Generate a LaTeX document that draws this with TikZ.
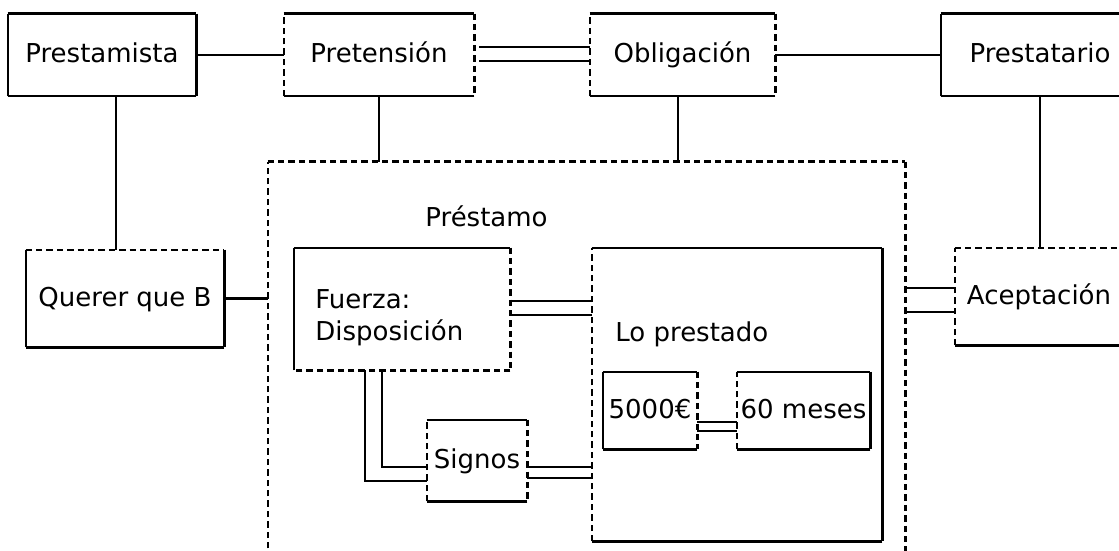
\documentclass[tikz,border=0pt]{standalone}
\usepackage{fontspec}
\setmainfont{DejaVu Sans}
\tikzstyle{block} = [rectangle, inner sep=0pt, font=\fontsize{13pt}{16pt}\selectfont]
\tikzstyle{word} = [block, text height=10pt, text depth=2pt]
\tikzstyle{freetext} = [inner sep=0pt, font=\fontsize{13pt}{16pt}\selectfont]
\tikzstyle{solidside} = [line width=1.1pt]
\tikzstyle{dashside} = [line width=1.1pt, dash pattern=on 3.2pt off 2pt]
\tikzstyle{link} = [line width=1.1pt]
% top, right, bottom, left side of a box
\newcommand{\boxsides}[5]{%
    \draw [#2] (#1.north west) -- (#1.north east);
    \draw [#3] (#1.north east) -- (#1.south east);
    \draw [#4] (#1.south east) -- (#1.south west);
    \draw [#5] (#1.south west) -- (#1.north west);}

\begin{document}
\begin{tikzpicture}[x=0.5pt,y=-0.5pt,node distance=2cm]
    \useasboundingbox (0,0) rectangle (1119,551);
    \clip (0,0) rectangle (1119,551);
    % top row
    \node [word, minimum width=94pt, minimum height=41pt] (lender) at (102,55) {Prestamista};
    \node [word, right of=lender, node distance=138.5pt, minimum width=95pt, minimum height=41pt] (claim) {Pretensión};
    \node [word, right of=claim, node distance=151.75pt, minimum width=92.5pt, minimum height=41pt] (duty) {Obligación};
    \node [word, right of=duty, node distance=178.75pt, minimum width=99pt, minimum height=41pt] (borrower) {Prestatario};
    % middle
    \node [word, minimum width=99pt, minimum height=48.5pt] (want) at (125,298.5) {Querer que B};
    \node [block, minimum width=318.5pt, minimum height=219pt] (loan) at (586.5,381) {};
    \node [freetext, anchor=base west] (loanname) at (425,227) {Préstamo};
    \node [word, minimum width=84pt, minimum height=48.5pt] (accept) at (1039,296.5) {Aceptación};
    % inside the loan
    \node [block, minimum width=108pt, minimum height=61pt] (force) at (402,309) {};
    \node [freetext, anchor=north west, align=left] (forcetext) at (315,289) {Fuerza:\\Disposición};
    \node [block, minimum width=145pt, minimum height=146.5pt] (lent) at (737,394.5) {};
    \node [freetext, anchor=base west] (lentname) at (615,341) {Lo prestado};
    \node [word, minimum width=50pt, minimum height=40.5pt] (signs) at (477,460.5) {Signos};
    \node [word, minimum width=47pt, minimum height=38.5pt] (amount) at (650,410.5) {5000€};
    \node [word, minimum width=66.5pt, minimum height=38.5pt] (term) at (803.5,410.5) {60 meses};

    \boxsides{lender}{solidside}{solidside}{solidside}{solidside}
    \boxsides{claim}{solidside}{dashside}{solidside}{dashside}
    \boxsides{duty}{solidside}{dashside}{solidside}{dashside}
    \boxsides{borrower}{solidside}{solidside}{solidside}{solidside}
    \boxsides{want}{dashside}{solidside}{solidside}{solidside}
    \boxsides{loan}{dashside}{dashside}{dashside}{dashside}
    \boxsides{accept}{dashside}{solidside}{solidside}{dashside}
    \boxsides{force}{solidside}{dashside}{dashside}{solidside}
    \boxsides{lent}{solidside}{solidside}{solidside}{dashside}
    \boxsides{signs}{solidside}{dashside}{solidside}{dashside}
    \boxsides{amount}{solidside}{dashside}{solidside}{solidside}
    \boxsides{term}{solidside}{solidside}{solidside}{dashside}

    \draw [link] (lender) -- (claim);
    \draw [link, shorten <=2.5pt] ([yshift=4pt]claim.east) -- ([yshift=4pt]duty.west);
    \draw [link, shorten <=2.5pt] ([yshift=-3pt]claim.east) -- ([yshift=-3pt]duty.west);
    \draw [link] (duty) -- (borrower);
    \draw [link] ([xshift=7pt]lender.south) -- ([xshift=7pt]lender.south |- want.north);
    \draw [link] (claim.south) -- (claim.south |- loan.north);
    \draw [link] ([xshift=-2.25pt]duty.south) -- ([xshift=-2.25pt]duty.south |- loan.north);
    \draw [link] (borrower.south) -- (borrower.south |- accept.north);
    \draw [link] (want.east) -- (want.east -| loan.west);
    \draw [link] ([yshift=4.25pt]accept.west) -- ([yshift=4.25pt]accept.west -| loan.east);
    \draw [link] ([yshift=-7.75pt]accept.west) -- ([yshift=-7.75pt]accept.west -| loan.east);
    \draw [link] ([yshift=4pt]force.east) -- ([yshift=4pt]force.east -| lent.west);
    \draw [link] ([yshift=-3pt]force.east) -- ([yshift=-3pt]force.east -| lent.west);
    \draw [link] ([xshift=-10pt]force.south) |- ([yshift=-3.25pt]signs.west);
    \draw [link] ([xshift=-18.5pt]force.south) |- ([yshift=-10.25pt]signs.west);
    \draw [link] ([yshift=-3.25pt]signs.east) -- ([yshift=-3.25pt]signs.east -| lent.west);
    \draw [link] ([yshift=-8.75pt]signs.east) -- ([yshift=-8.75pt]signs.east -| lent.west);
    \draw [link] ([yshift=-5.75pt]amount.east) -- ([yshift=-5.75pt]amount.east -| term.west);
    \draw [link] ([yshift=-10.25pt]amount.east) -- ([yshift=-10.25pt]amount.east -| term.west);
\end{tikzpicture}
\end{document}
